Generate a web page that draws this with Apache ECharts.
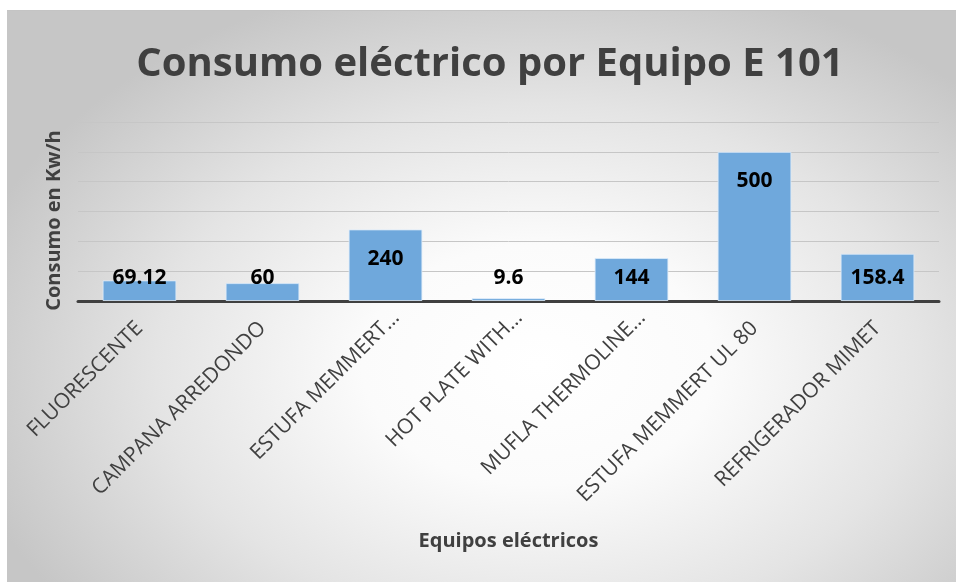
<!DOCTYPE html>
<html>
<head>
<meta charset="utf-8">
<script src="https://cdn.jsdelivr.net/npm/echarts@6/dist/echarts.min.js"></script>
<style>
html,body{margin:0;padding:0;background:#fff;}
#bg{position:absolute;left:7px;top:10px;width:949px;height:572px;border-top:1px solid #c4c4c4;box-sizing:border-box;
background:radial-gradient(ellipse 62% 70% at 56% 62%, #ffffff 0%, #fbfbfb 30%, #e4e4e4 65%, #c6c6c6 100%);}
#chart{position:absolute;left:0;top:0;width:956px;height:582px;}
</style>
</head>
<body>
<div id="bg"></div>
<div id="chart"></div>
<script>
const titleText = 'Consumo eléctrico por Equipo E 101';
const categories = ['FLUORESCENTE', 'CAMPANA ARREDONDO', 'ESTUFA MEMMERT…', 'HOT PLATE WITH…', 'MUFLA THERMOLINE…', 'ESTUFA MEMMERT UL 80', 'REFRIGERADOR MIMET'];
const values = [69.12, 60, 240, 9.6, 144, 500, 158.4];
const yAxisName = 'Consumo en Kw/h';
const xAxisName = 'Equipos eléctricos';

const chart = echarts.init(document.getElementById('chart'), null, {renderer: 'canvas'});
const FONT = '"Open Sans", "DejaVu Sans", sans-serif';
const dataItems = values.map(v => ({
  value: v,
  label: v > 170 ? {position: 'insideTop', distance: 19} : {position: 'insideBottom', distance: 12}
}));
const catItems = categories.map(c => c.endsWith('…')
  ? {value: c, textStyle: {padding: [0, -15, 0, 0]}}
  : {value: c});
chart.setOption({
  backgroundColor: 'transparent',
  animation: false,
  title: {
    text: titleText,
    left: 485,
    textAlign: 'center',
    top: 35,
    textStyle: {fontFamily: FONT, fontSize: 40, fontWeight: 'bold', color: '#404040', lineHeight: 50}
  },
  grid: {left: 78, right: 17, top: 122, bottom: 281, containLabel: false},
  xAxis: {
    type: 'category',
    data: catItems,
    name: xAxisName,
    nameLocation: 'middle',
    nameGap: 230,
    nameTextStyle: {fontFamily: FONT, fontSize: 20, fontWeight: 'bold', color: '#404040'},
    axisLine: {lineStyle: {color: '#404040', width: 3}},
    axisTick: {show: false},
    axisLabel: {rotate: 45, margin: 24, fontFamily: FONT, fontSize: 21, color: '#404040', interval: 0}
  },
  yAxis: {
    type: 'value',
    min: 0, max: 600, interval: 100,
    name: yAxisName,
    nameLocation: 'middle',
    nameRotate: 90,
    nameGap: 14,
    nameTextStyle: {fontFamily: FONT, fontSize: 20, fontWeight: 'bold', color: '#404040', padding: [0, 18, 0, 0]},
    axisLine: {show: false},
    axisTick: {show: false},
    axisLabel: {show: false},
    splitLine: {lineStyle: {color: '#c6c6c6', width: 1}}
  },
  series: [{
    type: 'bar',
    data: dataItems,
    barCategoryGap: '40%',
    itemStyle: {color: '#6fa8dc', borderColor: 'rgba(220,235,250,0.8)', borderWidth: 1},
    label: {show: true, fontFamily: FONT, fontSize: 21, fontWeight: 'bold', color: '#000'}
  }]
});
</script>
</body>
</html>
